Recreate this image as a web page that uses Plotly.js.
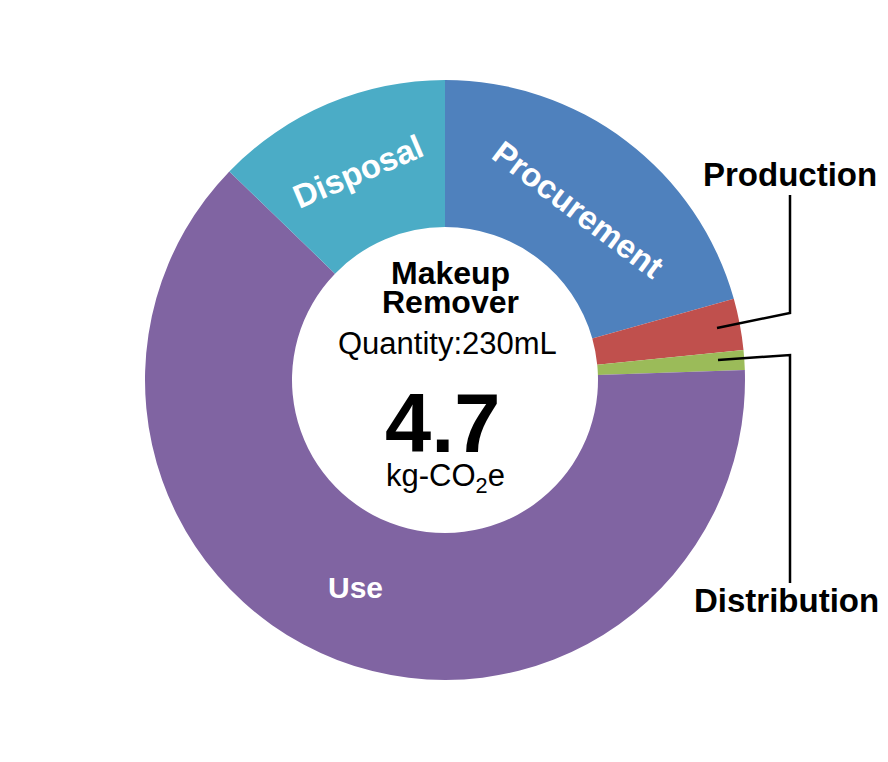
<!DOCTYPE html>
<html>
<head>
<meta charset="utf-8">
<script src="https://cdn.plot.ly/plotly-3.0.1.min.js"></script>
<style>html,body{margin:0;padding:0;background:#fff;}#chart{width:888px;height:762px;}</style>
</head>
<body>
<div id="chart"></div>
<script>
// Data (kg-CO2e)
const stages = ["Procurement", "Production", "Distribution", "Use", "Disposal"];
const emissions = [0.97, 0.13, 0.05, 2.95, 0.60];
const colors = ["#4F81BD", "#C0504D", "#9BBB59", "#8064A2", "#4BACC6"];
const productName = ["Makeup", "Remover"];
const quantityLabel = "Quantity:230mL";
const totalLabel = "4.7";
const unitLabel = "kg-CO<sub>2</sub>e";

const W = 888, H = 762;
const px = x => x / W;
const py = y => 1 - y / H;
const FONT = "Liberation Sans, Arial, Helvetica, sans-serif";

const trace = {
  type: "pie",
  labels: stages,
  values: emissions,
  marker: { colors: colors, line: { width: 0 } },
  hole: 0.51,
  sort: false,
  direction: "clockwise",
  rotation: 0,
  textinfo: "none",
  hoverinfo: "label+value",
  showlegend: false,
  domain: { x: [145 / W, 745 / W], y: [82 / H, 682 / H] }
};

const ann = (text, x, y, size, color, angle) => ({
  text: text, x: px(x), y: py(y), xref: "paper", yref: "paper",
  xanchor: "center", yanchor: "middle", showarrow: false,
  textangle: angle || 0,
  font: { family: FONT, size: size, color: color || "#000" }
});

const annotations = [
  ann("<b>" + productName[0] + "</b>", 450, 273, 32),
  ann("<b>" + productName[1] + "</b>", 450, 302, 32),
  ann(quantityLabel, 448, 343, 31),
  ann("<b>" + totalLabel + "</b>", 442, 423, 83),
  ann(unitLabel, 445, 478, 31),
  ann("<b>Use</b>", 355, 587, 30, "#fff"),
  ann("<b>Disposal</b>", 358, 171, 33, "#fff", -23),
  ann("<b>Procurement</b>", 578, 210, 33, "#fff", 37),
  ann("<b>Production</b>", 790, 175, 33),
  ann("<b>Distribution</b>", 786, 600, 33)
];

const shapes = [
  { type: "path", xref: "paper", yref: "paper",
    path: `M ${px(717)} ${py(328)} L ${px(790)} ${py(313)} L ${px(790)} ${py(195)}`,
    line: { color: "#000", width: 2.5 } },
  { type: "path", xref: "paper", yref: "paper",
    path: `M ${px(718)} ${py(360)} L ${px(790)} ${py(355)} L ${px(790)} ${py(583)}`,
    line: { color: "#000", width: 2.5 } }
];

const layout = {
  width: W, height: H,
  margin: { l: 0, r: 0, t: 0, b: 0 },
  paper_bgcolor: "#fff",
  plot_bgcolor: "#fff",
  showlegend: false,
  annotations: annotations,
  shapes: shapes
};

Plotly.newPlot("chart", [trace], layout, { displayModeBar: false, staticPlot: true });
</script>
</body>
</html>
